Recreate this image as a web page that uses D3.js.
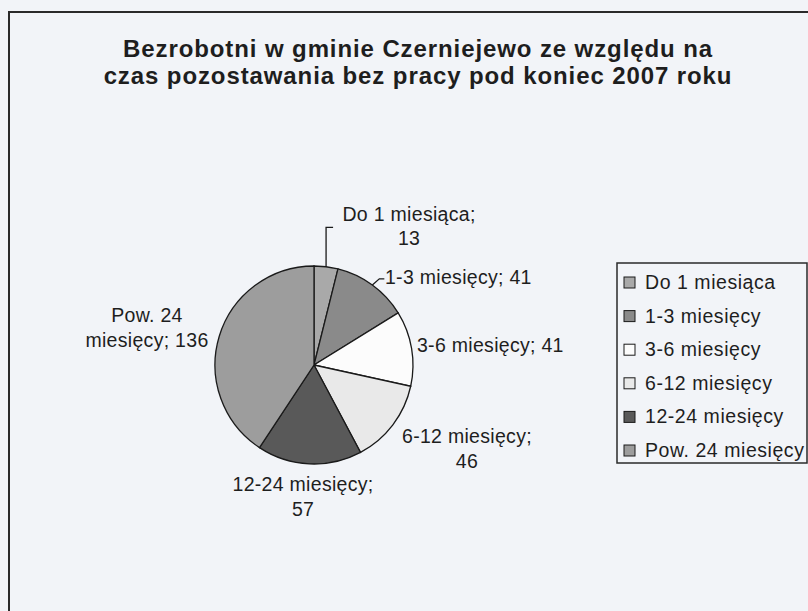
<!DOCTYPE html>
<html>
<head>
<meta charset="utf-8">
<script src="https://cdn.jsdelivr.net/npm/d3@7"></script>
<style>
  body { margin: 0; background: #f2f4f8; }
  text { font-family: "Liberation Sans", Arial, sans-serif; fill: #1e1e1e; }
</style>
</head>
<body>
<svg width="808" height="611"></svg>
<script>
// data
var categories = ["Do 1 miesiąca", "1-3 miesięcy", "3-6 miesięcy", "6-12 miesięcy", "12-24 miesięcy", "Pow. 24 miesięcy"];
var values = [13, 41, 41, 46, 57, 136];
var labelLines = [
  ["Do 1 miesiąca;", "13"],
  ["1-3 miesięcy; 41"],
  ["3-6 miesięcy; 41"],
  ["6-12 miesięcy;", "46"],
  ["12-24 miesięcy;", "57"],
  ["Pow. 24", "miesięcy; 136"]
];
var titleLines = ["Bezrobotni w gminie Czerniejewo ze względu na", "czas pozostawania bez pracy pod koniec 2007 roku"];

var svg = d3.select("svg"),
    width = +svg.attr("width"),
    height = +svg.attr("height");

var fills = ["#a9a9a9", "#8a8a8a", "#fcfcfc", "#e9e9e9", "#595959", "#9d9d9d"];

// label placement, in pie radii from the centre
var labelPos = [[0.96, -1.455, "middle"], [0.717, -0.818, "start"], [1.04, -0.131, "start"],
                [1.545, 0.788, "middle"], [-0.111, 1.273, "middle"], [-1.687, -0.434, "middle"]];

var cx = 314, cy = 365, r = 99;

// frame (only top and left edges fall inside the picture)
svg.append("path")
    .attr("d", "M9," + height + "V12H" + width)
    .attr("fill", "none")
    .attr("stroke", "#2a2a2a")
    .attr("stroke-width", 2);

// title
svg.append("text")
    .attr("x", 418)
    .attr("y", 57)
    .attr("text-anchor", "middle")
    .style("font-size", "24px")
    .style("letter-spacing", "0.9px")
    .style("font-weight", "bold")
  .selectAll("tspan")
  .data(titleLines)
  .enter().append("tspan")
    .attr("x", 418)
    .attr("dy", function(d, i) { return i ? 27 : 0; })
    .text(function(d) { return d; });

var pie = d3.pie().sort(null).value(function(d) { return d; });
var arcs = pie(values);
var arc = d3.arc().innerRadius(0).outerRadius(r);

var g = svg.append("g").attr("transform", "translate(" + cx + "," + cy + ")");

g.selectAll("path.slice")
  .data(arcs)
  .enter().append("path")
    .attr("class", "slice")
    .attr("d", arc)
    .attr("fill", function(d, i) { return fills[i]; })
    .attr("stroke", "#1a1a1a")
    .attr("stroke-width", 1.3);

// leader lines for the two small slices
function edge(d) {
  var a = (d.startAngle + d.endAngle) / 2;
  return [r * Math.sin(a), -r * Math.cos(a)];
}
var leaders = [
  { i: 0, pts: function(p) { return [p, [p[0], -1.39 * r], [p[0] + 7, -1.39 * r]]; } },
  { i: 1, pts: function(p) { return [p, [p[0] + 7, -0.87 * r], [p[0] + 12, -0.87 * r]]; } }
];
g.selectAll("path.leader")
  .data(leaders)
  .enter().append("path")
    .attr("class", "leader")
    .attr("d", function(d) { return d3.line()(d.pts(edge(arcs[d.i]))); })
    .attr("fill", "none")
    .attr("stroke", "#1a1a1a")
    .attr("stroke-width", 1.3);

// data labels
g.selectAll("text.lbl")
  .data(arcs)
  .enter().append("text")
    .attr("class", "lbl")
    .attr("text-anchor", function(d, i) { return labelPos[i][2]; })
    .style("font-size", "19.5px")
    .style("letter-spacing", "0.3px")
    .each(function(d, i) {
      var t = d3.select(this);
      labelLines[i].forEach(function(s, k) {
        t.append("tspan")
          .attr("x", labelPos[i][0] * r)
          .attr("y", labelPos[i][1] * r + k * 24.5)
          .text(s);
      });
    });

// legend
var lx = 617, ly = 263, rowH = 33.6;
svg.append("rect")
    .attr("x", lx)
    .attr("y", ly)
    .attr("width", 190)
    .attr("height", 200)
    .attr("fill", "none")
    .attr("stroke", "#2a2a2a")
    .attr("stroke-width", 1.5);

var leg = svg.selectAll("g.leg")
  .data(categories)
  .enter().append("g")
    .attr("class", "leg")
    .attr("transform", function(d, i) { return "translate(" + (lx + 7) + "," + (ly + 26 + i * rowH) + ")"; });

leg.append("rect")
    .attr("x", 0)
    .attr("y", -12)
    .attr("width", 11)
    .attr("height", 11)
    .attr("fill", function(d, i) { return fills[i]; })
    .attr("stroke", "#1a1a1a")
    .attr("stroke-width", 1);

leg.append("text")
    .attr("x", 21)
    .attr("y", 0)
    .style("font-size", "19.5px")
    .style("letter-spacing", "0.55px")
    .text(function(d) { return d; });
</script>
</body>
</html>
